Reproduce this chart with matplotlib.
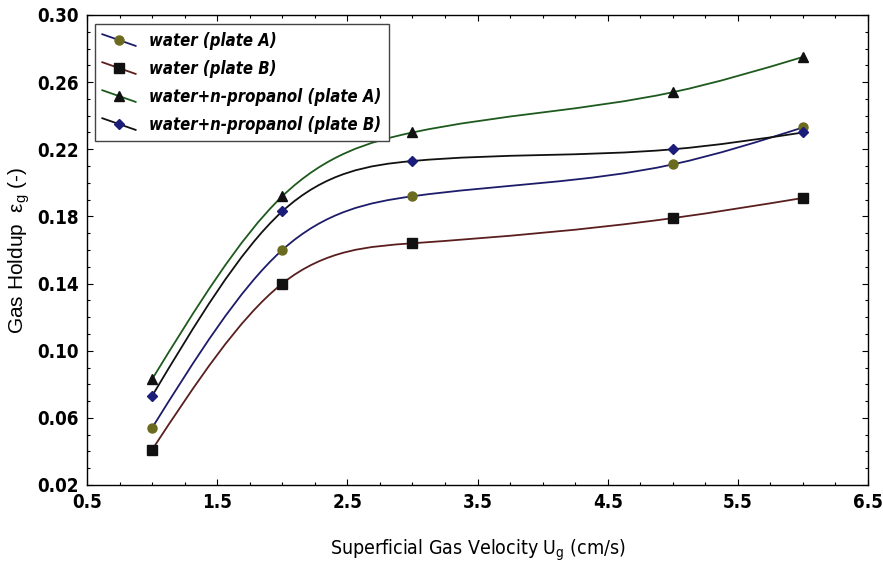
import numpy as np
import matplotlib
matplotlib.use("Agg")
import matplotlib.pyplot as plt
from matplotlib.path import Path
from matplotlib.patches import PathPatch
from matplotlib.lines import Line2D
from matplotlib.legend_handler import HandlerLine2D
from matplotlib.ticker import MultipleLocator, FormatStrFormatter
from matplotlib import font_manager
from matplotlib.font_manager import FontProperties

# gas velocity (cm/s)
ug = [1, 2, 3, 5, 6]

# gas holdup (-)
water_a = [0.054, 0.160, 0.192, 0.211, 0.233]
water_b = [0.041, 0.140, 0.164, 0.179, 0.191]
prop_a = [0.083, 0.192, 0.230, 0.254, 0.275]
prop_b = [0.073, 0.183, 0.213, 0.220, 0.230]

labels = ["water (plate A)", "water (plate B)",
          "water+n-propanol (plate A)", "water+n-propanol (plate B)"]


def find_font(keys):
    # look for a narrow/condensed face by file name
    for key in keys:
        for f in font_manager.fontManager.ttflist:
            if f.fname.endswith(key):
                return f.fname
    return None


bold_file = find_font(["LiberationSansNarrow-Bold.ttf", "DejaVuSansCondensed-Bold.ttf"])
bi_file = find_font(["LiberationSansNarrow-BoldItalic.ttf", "DejaVuSansCondensed-BoldOblique.ttf"])
reg_file = find_font(["LiberationSansNarrow-Regular.ttf", "DejaVuSansCondensed.ttf"])


def fp(fname, size, **kw):
    if fname:
        return FontProperties(fname=fname, size=size)
    return FontProperties(family="Liberation Sans", size=size * 0.88, **kw)


plt.rcParams["font.family"] = ["Liberation Sans", "DejaVu Sans"]
plt.rcParams["mathtext.fontset"] = "custom"
plt.rcParams["mathtext.rm"] = "Liberation Sans"
plt.rcParams["mathtext.it"] = "Liberation Sans:italic"


def spline_path(x, y):
    # natural cubic spline written as bezier segments
    x = np.asarray(x, float)
    y = np.asarray(y, float)
    n = len(x)
    h = np.diff(x)
    d = np.diff(y) / h
    A = np.zeros((n, n))
    r = np.zeros(n)
    A[0, 0] = A[-1, -1] = 1
    for i in range(1, n - 1):
        A[i, i - 1] = h[i - 1]
        A[i, i] = 2 * (h[i - 1] + h[i])
        A[i, i + 1] = h[i]
        r[i] = 6 * (d[i] - d[i - 1])
    M = np.linalg.solve(A, r)
    m = np.zeros(n)
    m[:-1] = d - h * (2 * M[:-1] + M[1:]) / 6
    m[-1] = d[-1] + h[-1] * (M[-2] + 2 * M[-1]) / 6
    verts = [(x[0], y[0])]
    codes = [Path.MOVETO]
    for i in range(n - 1):
        verts += [(x[i] + h[i] / 3, y[i] + m[i] * h[i] / 3),
                  (x[i + 1] - h[i] / 3, y[i + 1] - m[i + 1] * h[i] / 3),
                  (x[i + 1], y[i + 1])]
        codes += [Path.CURVE4] * 3
    return Path(verts, codes)


class SlantHandler(HandlerLine2D):
    def create_artists(self, legend, orig_handle, xdescent, ydescent,
                       width, height, fontsize, trans):
        arts = super().create_artists(legend, orig_handle, xdescent, ydescent,
                                      width, height, fontsize, trans)
        yc = (height - ydescent) / 2
        k = len(arts[0].get_xdata())
        arts[0].set_ydata(np.linspace(yc + 0.5 * height, yc - 0.5 * height, k))
        return arts


fig = plt.figure(figsize=(8.83, 5.71), dpi=100)
ax = fig.add_axes([87 / 883, 86 / 571, 781 / 883, 470 / 571])

series = [
    (water_a, "#1c1c6a", "o", "#6b6b20", 6.5),
    (water_b, "#5a1e1e", "s", "#111111", 6.5),
    (prop_a, "#1e5a1e", "^", "#111111", 7),
    (prop_b, "#111111", "D", "#1c1c7a", 5),
]
handles = []
for (vals, lc, mk, mc, ms), lab in zip(series, labels):
    ax.add_patch(PathPatch(spline_path(ug, vals), fill=False, edgecolor=lc, lw=1.3))
    ax.plot(ug, vals, linestyle="none", marker=mk, ms=ms, mfc=mc, mec=mc, zorder=3)
    handles.append(Line2D([], [], color=lc, lw=1.3, marker=mk, ms=ms, mfc=mc, mec=mc))

ax.set_xlim(0.5, 6.5)
ax.set_ylim(0.02, 0.30)
ax.xaxis.set_major_locator(MultipleLocator(1.0, offset=0.5))
ax.xaxis.set_minor_locator(MultipleLocator(0.25))
ax.yaxis.set_major_locator(MultipleLocator(0.04, offset=0.02))
ax.yaxis.set_minor_locator(MultipleLocator(0.01))
ax.xaxis.set_major_formatter(FormatStrFormatter("%.1f"))
ax.yaxis.set_major_formatter(FormatStrFormatter("%.2f"))
ax.tick_params(which="both", direction="in", top=True, right=True, width=0.8)
ax.tick_params(which="major", length=4, pad=6)
ax.tick_params(which="minor", length=2.5)
tick_fp = fp(bold_file, 13.5, weight="bold")
for t in ax.get_xticklabels() + ax.get_yticklabels():
    t.set_fontproperties(tick_fp)
for s in ax.spines.values():
    s.set_linewidth(1.0)

ax.set_xlabel(r"Superficial Gas Velocity U$_\mathregular{g}$ (cm/s)",
              fontproperties=fp(reg_file, 14), labelpad=18)
ax.set_ylabel("Gas Holdup  ε$_\\mathregular{g}$ (-)", fontsize=15)
ax.yaxis.set_label_coords(-0.071, 0.5)

leg = ax.legend(handles, labels, loc="upper left", bbox_to_anchor=(0.01, 0.98),
                handler_map={Line2D: SlantHandler(numpoints=1)},
                prop=fp(bi_file, 12, weight="bold", style="italic"),
                frameon=True, fancybox=False, edgecolor="#444444", framealpha=1,
                handlelength=2.0, handletextpad=0.8, labelspacing=0.6,
                borderpad=0.45, borderaxespad=0)
leg.get_frame().set_linewidth(1.0)

fig.savefig("out.png", dpi=100)
